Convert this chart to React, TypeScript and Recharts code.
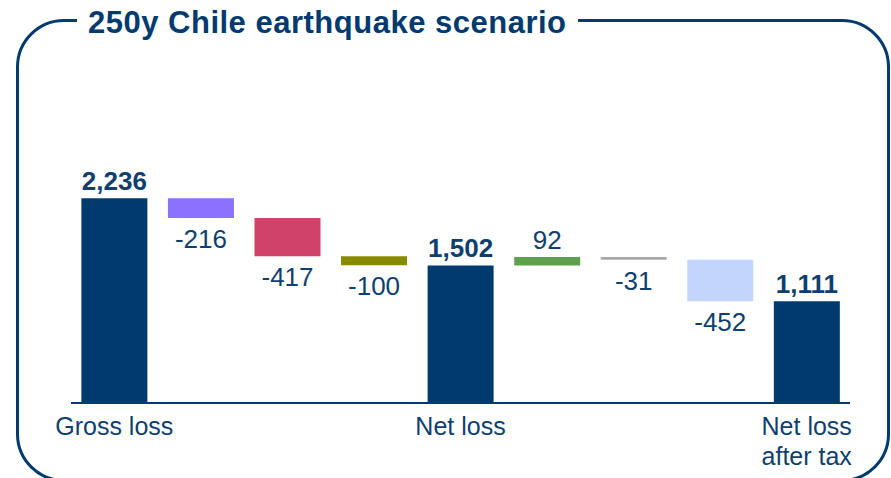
import { BarChart, Bar, XAxis, YAxis, Cell, LabelList } from 'recharts';

const categories = ['Gross loss', 'step1', 'step2', 'step3', 'Net loss', 'step5', 'step6', 'step7', 'Net loss after tax'];
const tickLabels = [['Gross loss'], [], [], [], ['Net loss'], [], [], [], ['Net loss', 'after tax']];
const values = [2236, -216, -417, -100, 1502, 92, -31, -452, 1111];
const isTotal = [true, false, false, false, true, false, false, false, true];
const barColors = ['#003A6F', '#8B71FF', '#CF4368', '#8A8A00', '#003A6F', '#5FA04E', '#A9A9A9', '#C3D5FD', '#003A6F'];

const NAVY = '#003A6F';
const TEXT = '#0E3F6E';
const FONT = '"Liberation Sans", Arial, sans-serif';

// waterfall: invisible base + visible step
let level = 0;
const data = categories.map((name, i) => {
  const v = values[i];
  let base = 0;
  if (isTotal[i]) {
    base = 0;
    level = v;
  } else if (v < 0) {
    base = level + v;
    level += v;
  } else {
    base = level;
    level += v;
  }
  return { name, base, step: Math.abs(v), value: v, total: isTotal[i], up: v > 0 };
});

function StepLabel(props: any) {
  const { x, y, width, height, index } = props;
  const d = data[index];
  if (!d) return null;
  const cx = x + width / 2;
  const above = d.total || d.up;
  const text = d.total ? d.value.toLocaleString('en-US') : String(d.value);
  return (
    <text
      x={cx}
      y={above ? y - 8 : y + height + 30}
      textAnchor="middle"
      fill={TEXT}
      fontSize={26}
      fontWeight={d.total ? 700 : 400}
      fontFamily={FONT}
    >
      {text}
    </text>
  );
}

function CategoryTick(props: any) {
  const { x, y, index } = props;
  const lines = tickLabels[index] || [];
  return (
    <text x={x} y={y} textAnchor="middle" fill={TEXT} fontSize={25} fontFamily={FONT}>
      {lines.map((l, i) => (
        <tspan key={l} x={x} dy={i === 0 ? 24 : 30}>
          {l}
        </tspan>
      ))}
    </text>
  );
}

export default function App() {
  return (
    <div style={{ position: 'absolute', left: 0, top: 0, width: 891, height: 478, overflow: 'hidden', background: '#fff' }}>
      <div
        style={{
          position: 'absolute',
          left: 16,
          top: 19,
          width: 874,
          height: 463,
          boxSizing: 'border-box',
          border: `3.5px solid ${NAVY}`,
          borderRadius: 48,
        }}
      />
      <div
        style={{
          position: 'absolute',
          left: 77,
          top: 7,
          padding: '0 11px',
          background: '#fff',
          color: NAVY,
          fontFamily: FONT,
          fontWeight: 700,
          fontSize: 31,
          lineHeight: '31px',
          letterSpacing: 0.5,
          whiteSpace: 'nowrap',
        }}
      >
        250y Chile earthquake scenario
      </div>
      <div style={{ position: 'absolute', left: 0, top: 0 }}>
        <BarChart
          width={891}
          height={478}
          data={data}
          margin={{ top: 174, right: 41, left: 71, bottom: 0 }}
          barCategoryGap="12%"
        >
          <XAxis
            dataKey="name"
            axisLine={{ stroke: NAVY, strokeWidth: 2 }}
            tickLine={false}
            interval={0}
            tick={<CategoryTick />}
            height={75}
          />
          <YAxis hide domain={[0, 2500]} />
          <Bar dataKey="base" stackId="w" fill="transparent" isAnimationActive={false} />
          <Bar dataKey="step" stackId="w" isAnimationActive={false}>
            {data.map((d, i) => (
              <Cell key={d.name} fill={barColors[i]} />
            ))}
            <LabelList dataKey="step" content={<StepLabel />} />
          </Bar>
        </BarChart>
      </div>
    </div>
  );
}
